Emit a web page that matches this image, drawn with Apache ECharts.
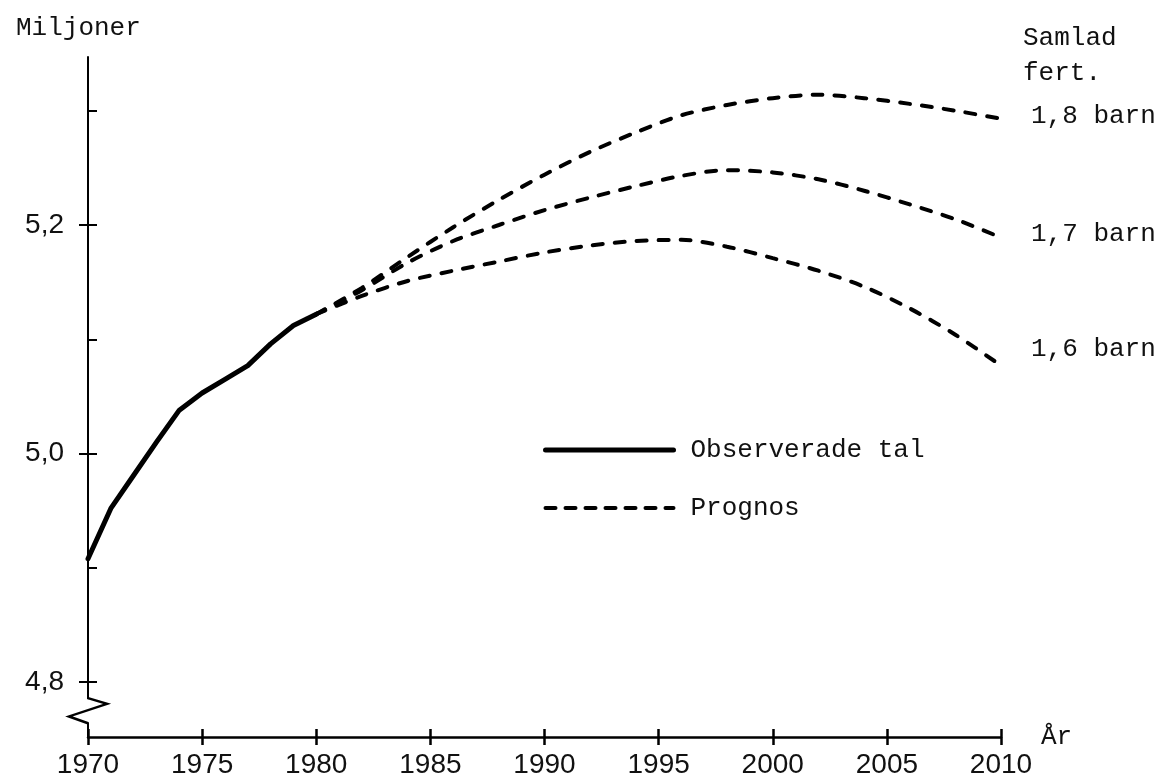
<!DOCTYPE html>
<html>
<head>
<meta charset="utf-8">
<script src="https://cdn.jsdelivr.net/npm/echarts@6/dist/echarts.min.js"></script>
<style>
html, body { margin: 0; padding: 0; background: #fff; }
#main { width: 1166px; height: 781px; }
</style>
</head>
<body>
<div id="main"></div>
<script>
// observerade tal 1970-1980 (miljoner)
var obsYears = [1970, 1971, 1972, 1973, 1974, 1975, 1976, 1977, 1978, 1979, 1980];
var obsValues = [4.908, 4.952, 4.981, 5.010, 5.038, 5.053, 5.065, 5.077, 5.096, 5.112, 5.122];

// prognoser efter samlad fruktsamhet
var progYears = [1980, 1982, 1984, 1986, 1988, 1990, 1992, 1994, 1996, 1998, 2000, 2002, 2004, 2006, 2008, 2010];
var prog18 = [5.122, 5.145, 5.172, 5.198, 5.222, 5.244, 5.264, 5.281, 5.296, 5.305, 5.311, 5.314, 5.311, 5.306, 5.300, 5.293];
var prog17 = [5.122, 5.143, 5.167, 5.186, 5.200, 5.213, 5.224, 5.234, 5.243, 5.248, 5.246, 5.240, 5.230, 5.218, 5.205, 5.189];
var prog16 = [5.122, 5.138, 5.151, 5.160, 5.168, 5.176, 5.182, 5.186, 5.187, 5.181, 5.171, 5.160, 5.146, 5.127, 5.104, 5.077];

var yTicks = [4.8, 4.9, 5.0, 5.1, 5.2, 5.3];
var yLabels = [4.8, 5.0, 5.2];

function pairs(xs, ys) {
    return xs.map(function (x, i) { return [x, ys[i]]; });
}

var mono = 'Liberation Mono';
var sans = 'Liberation Sans';
var yMin = 4.752, yMax = 5.347;

var dashStyle = { color: '#000', width: 4, type: [10, 12], cap: 'round' };

function progSeries(values, label, dy) {
    return {
        name: 'Prognos',
        type: 'line',
        data: pairs(progYears, values),
        symbol: 'none',
        smooth: 0.3,
        lineStyle: dashStyle,
        itemStyle: { color: '#000' },
        endLabel: {
            show: true,
            formatter: label,
            distance: 30,
            offset: [0, dy],
            fontFamily: mono,
            fontSize: 26,
            color: '#111'
        },
        z: 2
    };
}

var myChart = echarts.init(document.getElementById('main'));
option = {
    backgroundColor: '#fff',
    animation: false,
    title: [
        {
            text: 'Miljoner',
            left: 11,
            top: 10,
            textStyle: { fontFamily: mono, fontSize: 26, fontWeight: 'normal', color: '#111' }
        },
        {
            text: 'Samlad\nfert.',
            left: 1018,
            top: 16,
            textStyle: { fontFamily: mono, fontSize: 26, fontWeight: 'normal', color: '#111', lineHeight: 35 }
        }
    ],
    legend: {
        orient: 'vertical',
        left: 538,
        top: 432,
        itemWidth: 128,
        itemHeight: 14,
        itemGap: 32,
        itemStyle: { opacity: 0 },
        data: [
            { name: 'Observerade tal', lineStyle: { width: 5, color: '#000' } },
            { name: 'Prognos', lineStyle: { width: 4, color: '#000', type: [10, 10], cap: 'round' } }
        ],
        textStyle: { fontFamily: mono, fontSize: 26, color: '#111', padding: [0, 0, 0, 12] }
    },
    grid: { left: 88, right: 165, top: 57, bottom: 44 },
    xAxis: [
        {
            type: 'value',
            position: 'bottom',
            min: 1970,
            max: 2010,
            interval: 5,
            name: 'År',
            nameLocation: 'end',
            nameGap: 40,
            nameTextStyle: { fontFamily: mono, fontSize: 26, color: '#111' },
            axisLine: { onZero: false, lineStyle: { color: '#000', width: 2.5 } },
            axisTick: { length: 8, lineStyle: { color: '#000', width: 2.5 } },
            axisLabel: {
                margin: 14,
                fontFamily: sans,
                fontSize: 28,
                color: '#111',
                formatter: function (v) { return String(v); }
            },
            splitLine: { show: false }
        },
        {
            type: 'value',
            position: 'bottom',
            min: 1970,
            max: 2010,
            interval: 5,
            axisLine: { show: false, onZero: false },
            axisTick: { inside: true, length: 8, lineStyle: { color: '#000', width: 2.5 } },
            axisLabel: { show: false },
            splitLine: { show: false }
        }
    ],
    yAxis: [
        {
            type: 'value',
            position: 'left',
            min: yMin,
            max: yMax,
            axisLine: { show: true, onZero: false, lineStyle: { color: '#000', width: 2 } },
            axisTick: { show: true, inside: true, length: 9, customValues: yTicks, lineStyle: { color: '#000', width: 2 } },
            axisLabel: {
                customValues: yLabels,
                margin: 24,
                fontFamily: sans,
                fontSize: 28,
                color: '#111',
                formatter: function (v) { return v.toFixed(1).replace('.', ','); }
            },
            splitLine: { show: false }
        },
        {
            type: 'value',
            position: 'left',
            min: yMin,
            max: yMax,
            axisLine: { show: false, onZero: false },
            axisTick: { show: true, length: 9, customValues: yLabels, lineStyle: { color: '#000', width: 2 } },
            axisLabel: { show: false },
            splitLine: { show: false }
        }
    ],
    series: [
        {
            name: 'Observerade tal',
            type: 'line',
            data: pairs(obsYears, obsValues),
            symbol: 'none',
            lineStyle: { color: '#000', width: 5, join: 'round', cap: 'round' },
            itemStyle: { color: '#000' },
            z: 3
        },
        progSeries(prog18, '1,8 barn', -3),
        progSeries(prog17, '1,7 barn', -3),
        progSeries(prog16, '1,6 barn', -16)
    ]
};
myChart.setOption(option);

// axelbrott (sicksack) nedanför 4,8
var axX = myChart.convertToPixel({ xAxisIndex: 0 }, 1970);
var bTop = myChart.convertToPixel({ yAxisIndex: 0 }, 4.786);
var bR = myChart.convertToPixel({ yAxisIndex: 0 }, 4.781);
var bL = myChart.convertToPixel({ yAxisIndex: 0 }, 4.770);
var bBot = myChart.convertToPixel({ yAxisIndex: 0 }, 4.764);
myChart.setOption({
    graphic: [
        {
            type: 'rect',
            shape: { x: axX - 3, y: bTop + 1, width: 6, height: bBot - bTop - 2 },
            style: { fill: '#fff' },
            z: 10
        },
        {
            type: 'polyline',
            shape: { points: [[axX, bTop], [axX + 19, bR], [axX - 19, bL], [axX, bBot]] },
            style: { stroke: '#000', lineWidth: 2.5, fill: null },
            z: 11
        }
    ]
});
</script>
</body>
</html>
